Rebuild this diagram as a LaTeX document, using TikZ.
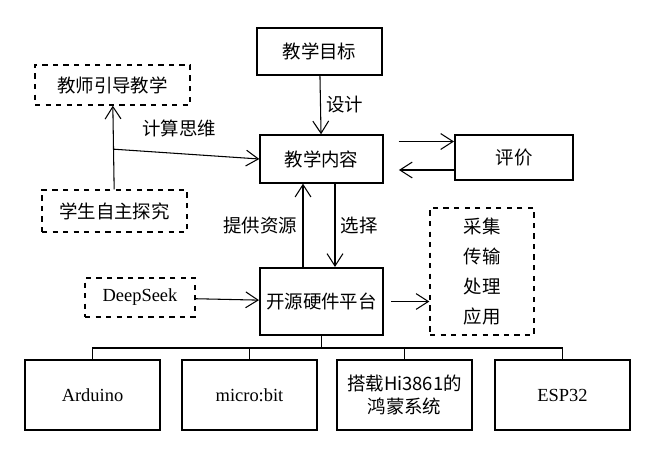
\documentclass[tikz,border=0pt]{standalone}
\usepackage{fontspec}
\setmainfont{Liberation Serif}
\newfontfamily\cjk{Noto Sans CJK SC}
\usetikzlibrary{positioning,arrows.meta}
\begin{document}
\begin{tikzpicture}[x=0.02cm,y=-0.02cm,
  font=\fontsize{10.5}{13}\selectfont\cjk,
  box/.style={draw,thick,inner sep=0pt,align=center},
  dbox/.style={draw,thick,dashed,inner sep=0pt,align=center},
  arr/.style={-{Straight Barb[length=7pt,width=9pt]},semithick},
  lbl/.style={inner sep=3pt}]
\useasboundingbox (0,0) rectangle (655,450);
%boites
\node[box,minimum width=2.5cm,minimum height=0.94cm] (goal) at (319.5,51.5) {教学目标};
\node[dbox,minimum width=3.1cm,minimum height=0.8cm] (teach) at (112.5,85) {教师引导教学};
\node[dbox,minimum width=2.9cm,minimum height=0.84cm] (stud) at (114.5,211) {学生自主探究};
\node[box,minimum width=2.46cm,minimum height=0.96cm] (cont) at (321.5,159) {教学内容};
\node[box,very thick,minimum width=2.36cm,minimum height=0.9cm] (eval) at (514,157.5) {评价};
\node[box,very thick,minimum width=2.46cm,minimum height=1.34cm] (plat) at (321.5,301.5) {开源硬件平台};
\node[dbox,minimum width=2.2cm,minimum height=0.78cm,font=\fontsize{10.5}{13}\selectfont\rmfamily] (ds) at (140,297.5) {DeepSeek};
\node[dbox,minimum width=2.08cm,minimum height=2.54cm,font=\fontsize{10.5}{17}\selectfont\cjk] (proc) at (482,271.5) {采集\\传输\\处理\\应用};
%bas
\node[box,minimum width=2.7cm,minimum height=1.4cm,font=\fontsize{10.5}{13}\selectfont\rmfamily] (ard) at (92.5,395) {Arduino};
\node[box,minimum width=2.7cm,minimum height=1.4cm,font=\fontsize{10.5}{13}\selectfont\rmfamily] (mb) at (249.5,395) {micro:bit};
\node[box,minimum width=2.7cm,minimum height=1.4cm] (hi) at (404.5,395) {搭载Hi3861的\\鸿蒙系统};
\node[box,minimum width=2.7cm,minimum height=1.4cm,font=\fontsize{10.5}{13}\selectfont\rmfamily] (esp) at (562.5,395) {ESP32};
%fleches
\draw[arr] (goal) -- node[right,lbl] {设计} (cont);
\draw[arr,{Straight Barb[length=7pt,width=9pt]}-] (teach) -- coordinate[pos=0.52] (mid) (stud);
\draw[arr] (mid) -- node[above,lbl,pos=0.45,yshift=6pt] {计算思维} (cont.west);
\draw[arr] ([yshift=0.35cm]cont.east) ++(15,0) coordinate (e1) -- (e1-|eval.west);
\draw[arr] ([yshift=-0.25cm]eval.west) -- ++(-55,0) coordinate (e2);
\draw[arr] ([xshift=-0.37cm]plat.north) -- node[left,lbl] {提供资源} ([xshift=-0.37cm]cont.south);
\draw[arr] ([xshift=0.27cm]cont.south) -- node[right,lbl] {选择} ([xshift=0.27cm]plat.north);
\draw[arr] (ds) -- (plat);
\draw[arr] ([xshift=0.14cm]plat.east) -- (plat.east-|proc.west);
%bus
\coordinate (bus) at (321.5,348);
\draw[thick] (plat.south) -- (bus);
\draw[thick] (ard.north) |- (bus) -| (esp.north);
\draw[thick] (mb.north) -- (mb.north|-bus);
\draw[thick] (hi.north) -- (hi.north|-bus);
\end{tikzpicture}
\end{document}
